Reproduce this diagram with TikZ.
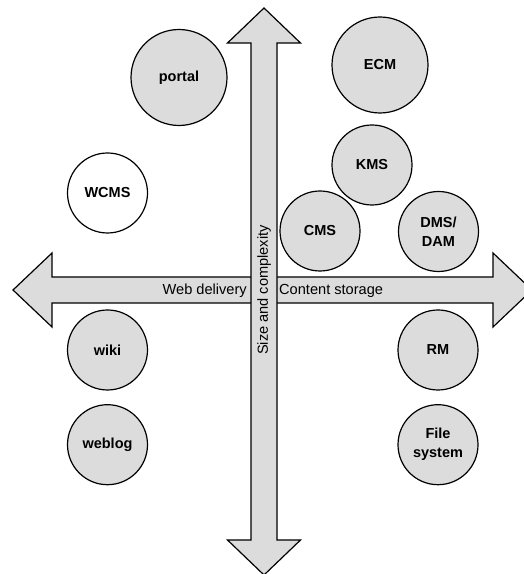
\documentclass[tikz,border=0pt]{standalone}
\usepackage{fontspec}
\setmainfont{Liberation Sans}
\usetikzlibrary{positioning}
\definecolor{shadegray}{RGB}{220,220,220}

\begin{document}
\begin{tikzpicture}[
        x=1bp, y=1bp,
        topic/.style={circle, draw, line width=1.2bp, fill=shadegray, inner sep=0pt, minimum size=80bp, align=center, font=\fontsize{14.5bp}{19bp}\selectfont\bfseries},
        bigtopic/.style={topic, minimum size=96bp},
        axis/.style={draw, line width=1.2bp, fill=shadegray, line join=miter},
        axislabel/.style={inner sep=0pt, font=\fontsize{14.6bp}{17bp}\selectfont}
    ]
    \clip (0,0) rectangle (524,574);
    \coordinate (o) at (264,284);

    \draw[axis] (13,284) -- (52,321) -- (52,297) -- (493,297) -- (493,321) -- (532,284)
        -- (493,247) -- (493,271) -- (52,271) -- (52,247) -- cycle;
    \draw[axis] (264,566) -- (300.5,531) -- (277,531) -- (277,34) -- (300.5,34) -- (264,-1)
        -- (227.5,34) -- (251,34) -- (251,531) -- (227.5,531) -- cycle;

    \node (web) [axislabel, anchor=base east] at (247,279) {Web delivery};
    \node (storage) [axislabel, anchor=base west] at (279,279) {Content storage};
    \node (size) [axislabel, rotate=90] at (o) {Size and complexity};

    \node (portal) [bigtopic] at (179,496.5) {portal};
    \node (ecm) [bigtopic] at (380,509) {ECM};
    \node (kms) [topic] at (372,409) {KMS};
    \node (wcms) [topic, fill=white] at (107.5,381) {WCMS};
    \node (cms) [topic] at (320,343) {CMS};
    \node (dms) [topic] at (438.5,342.5) {DMS/\\DAM};
    \node (wiki) [topic] at (107.5,224) {wiki};
    \node (weblog) [topic, below=13.5bp of wiki] {weblog};
    \node (rm) [topic] at (438,224) {RM};
    \node (files) [topic, below=13.5bp of rm] {File\\system};
\end{tikzpicture}
\end{document}
